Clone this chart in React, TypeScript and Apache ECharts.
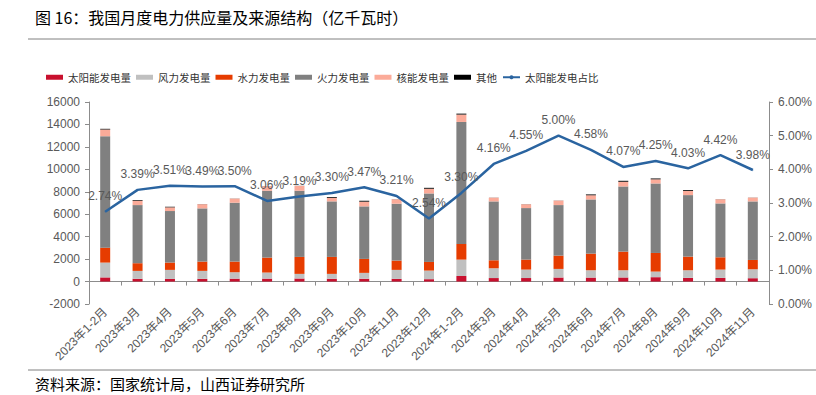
import React, { useEffect, useRef } from "react";
import * as echarts from "echarts";

const categories = [
  "2023年1-2月", "2023年3月", "2023年4月", "2023年5月", "2023年6月", "2023年7月",
  "2023年8月", "2023年9月", "2023年10月", "2023年11月", "2023年12月",
  "2024年1-2月", "2024年3月", "2024年4月", "2024年5月", "2024年6月", "2024年7月",
  "2024年8月", "2024年9月", "2024年10月", "2024年11月",
];

const solar = [370, 245, 232, 240, 259, 261, 273, 248, 250, 236, 212, 494, 312, 314, 361, 355, 365, 390, 328, 325, 298];
const wind = [1320, 705, 808, 711, 571, 542, 411, 436, 523, 804, 766, 1462, 873, 753, 765, 652, 642, 499, 679, 742, 798];
const hydro = [1330, 685, 652, 829, 950, 1333, 1512, 1512, 1245, 830, 770, 1392, 711, 889, 1185, 1482, 1660, 1659, 1215, 1096, 830];
const thermal = [9930, 5180, 4592, 4741, 5245, 5956, 5896, 4948, 4681, 5066, 6104, 10874, 5245, 4592, 4504, 4830, 5807, 6193, 5482, 4800, 5215];
const nuclear = [600, 390, 330, 370, 365, 400, 430, 315, 420, 390, 420, 660, 330, 336, 395, 370, 420, 370, 370, 365, 335];
const others = [60, 60, 50, 10, 10, 10, 10, 70, 80, 10, 80, 80, 10, 10, 10, 74, 84, 74, 74, 10, 10];
const solarShare = [2.74, 3.39, 3.51, 3.49, 3.5, 3.06, 3.19, 3.3, 3.47, 3.21, 2.54, 3.3, 4.16, 4.55, 5.0, 4.58, 4.07, 4.25, 4.03, 4.42, 3.98];

const leftTicks = { min: -2000, max: 16000, interval: 2000 };
const rightTicks = { min: 0, max: 6, interval: 1 };

const labelColor = "#595959";
const axisColor = "#8c8c8c";

export default function App() {
  const ref = useRef<HTMLDivElement>(null);
  useEffect(() => {
    const chart = echarts.init(ref.current!, null, { renderer: "svg" });
    const barSeries = (name: string, data: number[], color: string) => ({
      name,
      type: "bar",
      stack: "total",
      data,
      barWidth: 10,
      itemStyle: { color },
    });
    chart.setOption({
      animation: false,
      backgroundColor: "#ffffff",
      textStyle: { fontFamily: "Liberation Sans, Arial, Noto Sans CJK SC, sans-serif" },
      grid: { left: 89, right: 47, top: 102, bottom: 91, containLabel: false },
      legend: {
        left: 41,
        top: 67,
        itemWidth: 17,
        itemHeight: 5,
        itemGap: 5,
        textStyle: { fontSize: 10.5, color: "#333333", fontFamily: "Noto Sans CJK SC, sans-serif" },
        data: [
          { name: "太阳能发电量", icon: "rect" },
          { name: "风力发电量", icon: "rect" },
          { name: "水力发电量", icon: "rect" },
          { name: "火力发电量", icon: "rect" },
          { name: "核能发电量", icon: "rect" },
          { name: "其他", icon: "rect" },
          { name: "太阳能发电占比" },
        ],
      },
      xAxis: {
        type: "category",
        data: categories,
        boundaryGap: true,
        axisLine: { onZero: true, lineStyle: { color: axisColor, width: 1 } },
        axisTick: { show: true, length: 4, alignWithLabel: false, lineStyle: { color: axisColor } },
        axisLabel: {
          rotate: 45,
          interval: 0,
          fontSize: 12,
          color: labelColor,
          margin: 6,
          fontFamily: "Liberation Sans, Noto Sans CJK SC, sans-serif",
        },
      },
      yAxis: [
        {
          type: "value",
          position: "left",
          min: leftTicks.min,
          max: leftTicks.max,
          interval: leftTicks.interval,
          splitLine: { show: false },
          axisLine: { show: true, lineStyle: { color: axisColor, width: 1 } },
          axisTick: { show: true, length: 4, lineStyle: { color: axisColor } },
          axisLabel: { fontSize: 12, color: labelColor, margin: 9, formatter: (v: number) => String(v) },
        },
        {
          type: "value",
          position: "right",
          min: rightTicks.min,
          max: rightTicks.max,
          interval: rightTicks.interval,
          splitLine: { show: false },
          axisLine: { show: true, lineStyle: { color: axisColor, width: 1 } },
          axisTick: { show: true, length: 4, lineStyle: { color: axisColor } },
          axisLabel: {
            fontSize: 12,
            color: labelColor,
            margin: 9,
            formatter: (v: number) => v.toFixed(2) + "%",
          },
        },
      ],
      series: [
        barSeries("太阳能发电量", solar, "#c8102e"),
        barSeries("风力发电量", wind, "#c0c0c0"),
        barSeries("水力发电量", hydro, "#e63c00"),
        barSeries("火力发电量", thermal, "#808080"),
        barSeries("核能发电量", nuclear, "#fbab99"),
        barSeries("其他", others, "#000000"),
        {
          name: "太阳能发电占比",
          type: "line",
          yAxisIndex: 1,
          data: solarShare,
          symbol: "circle",
          symbolSize: 1,
          showSymbol: true,
          z: 5,
          lineStyle: { color: "#2a64a0", width: 2.5 },
          itemStyle: { color: "#2a64a0" },
          labelLayout: { hideOverlap: false },
          label: {
            show: true,
            position: "top",
            distance: 9,
            fontSize: 12,
            color: labelColor,
            formatter: (p: any) => Number(p.value).toFixed(2) + "%",
          },
        },
      ],
      graphic: [
        {
          type: "text",
          left: 35,
          top: 9,
          style: {
            text: "图 16：我国月度电力供应量及来源结构（亿千瓦时）",
            fontSize: 16,
            fill: "#000000",
            fontFamily: "Noto Sans CJK SC, sans-serif",
          },
        },
        {
          type: "line",
          shape: { x1: 28, y1: 39, x2: 816, y2: 39 },
          style: { stroke: "#808080", lineWidth: 1 },
        },
        {
          type: "line",
          shape: { x1: 28, y1: 370, x2: 816, y2: 370 },
          style: { stroke: "#808080", lineWidth: 1 },
        },
        {
          type: "text",
          left: 35,
          top: 376,
          style: {
            text: "资料来源：国家统计局，山西证券研究所",
            fontSize: 15,
            fill: "#000000",
            fontFamily: "Noto Sans CJK SC, sans-serif",
          },
        },
      ],
    });
    return () => chart.dispose();
  }, []);
  return (
    <div
      ref={ref}
      style={{ position: "fixed", left: 0, top: 0, width: 816, height: 395 }}
    />
  );
}
